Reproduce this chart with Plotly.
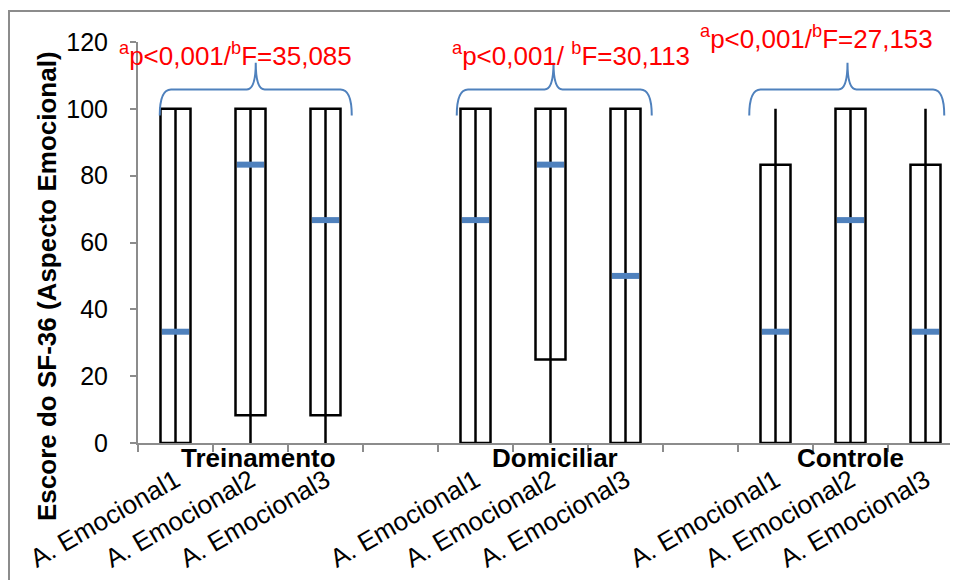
import plotly.graph_objects as go

# ---- data ----
groups = ["Treinamento", "Domiciliar", "Controle"]
tick_labels = ["A. Emocional1", "A. Emocional2", "A. Emocional3"] * 3
positions = [0, 1, 2, 4, 5, 6, 8, 9, 10]
q1 = [0, 8.3, 8.3, 0, 25, 0, 0, 0, 0]
q3 = [100, 100, 100, 100, 100, 100, 83.3, 100, 83.3]
medians = [33.3, 83.3, 66.7, 66.7, 83.3, 50, 33.3, 66.7, 33.3]
mins = [0, 0, 0, 0, 0, 0, 0, 0, 0]
maxs = [100, 100, 100, 100, 100, 100, 100, 100, 100]
stats_text = [
    "<sup>a</sup>p&lt;0,001/<sup>b</sup>F=35,085",
    "<sup>a</sup>p&lt;0,001/ <sup>b</sup>F=30,113",
    "<sup>a</sup>p&lt;0,001/<sup>b</sup>F=27,153",
]

FONT = "Liberation Sans, Arial, sans-serif"
BLUE = "#4f81bd"
GREY = "#8c8c8c"
# page body has an 8px margin, so the figure is 950x572 inside the 958x580 window
W, H = 950, 572
ML, MR, MT, MB = 130, 0, 34, 137
BOXW = 0.4
YMAX = 120

fig = go.Figure()

# boxes
fig.add_trace(go.Bar(
    x=positions, y=[b - a for a, b in zip(q1, q3)], base=q1, width=BOXW,
    marker=dict(color="white", line=dict(color="black", width=2.5)),
    hoverinfo="skip", showlegend=False))

# whiskers (vertical line through the box)
wx, wy = [], []
for p, lo, hi in zip(positions, mins, maxs):
    wx += [p, p, None]
    wy += [lo, hi, None]
fig.add_trace(go.Scatter(x=wx, y=wy, mode="lines",
                         line=dict(color="black", width=2.5),
                         hoverinfo="skip", showlegend=False))

# medians
mx, my = [], []
for p, m in zip(positions, medians):
    mx += [p - BOXW / 2 + 0.02, p + BOXW / 2 - 0.02, None]
    my += [m, m, None]
fig.add_trace(go.Scatter(x=mx, y=my, mode="lines",
                         line=dict(color=BLUE, width=6),
                         hoverinfo="skip", showlegend=False))

# braces (left, tip, right) in data units
braces = [(-0.21, 1.07, 2.35), (3.75, 5.04, 6.35), (7.65, 8.96, 10.25)]
yb, yh, yt = 98, 105.8, 113.8
for x0, xt, x1 in braces:
    path = (f"M {x0},{yb} Q {x0},{yh} {x0+0.15},{yh} "
            f"L {xt-0.12},{yh} Q {xt},{yh} {xt},{yt} "
            f"Q {xt},{yh} {xt+0.12},{yh} "
            f"L {x1-0.15},{yh} Q {x1},{yh} {x1},{yb}")
    fig.add_shape(type="path", path=path, xref="x", yref="y",
                  line=dict(color=BLUE, width=2))

# stats annotations (y given in data units, placed via paper coords)
stat_pos = [(0.8, 116.4), (5.27, 116.4), (8.55, 121.2)]
for txt, (x, y) in zip(stats_text, stat_pos):
    fig.add_annotation(x=x, y=y / YMAX, xref="x", yref="paper", text=txt, showarrow=False,
                       font=dict(family=FONT, size=26, color="red"),
                       xanchor="center", yanchor="middle")

# group labels
group_pos = [1.1, 5.06, 9.0]
for g, x in zip(groups, group_pos):
    fig.add_annotation(x=x, y=-4.6 / YMAX, xref="x", yref="paper", text=f"<b>{g}</b>",
                       showarrow=False, font=dict(family=FONT, size=26, color="black"),
                       xanchor="center", yanchor="middle")

pw = W - ML - MR
ph = H - MT - MB

# y-axis title
fig.add_annotation(x=(39 - ML) / pw, y=(H - MB - 278) / ph, xref="paper", yref="paper",
                   text="<b>Escore do SF-36 (Aspecto Emocional)</b>", textangle=-90,
                   showarrow=False, font=dict(family=FONT, size=26, color="black"),
                   xanchor="center", yanchor="middle")

# outer frame
fig.add_shape(type="rect", xref="paper", yref="paper",
              x0=(1 - ML) / pw, x1=(W + 20 - ML) / pw,
              y0=(H - MB - (H + 20)) / ph, y1=(H - MB - 3) / ph,
              line=dict(color=GREY, width=2), fillcolor="rgba(0,0,0,0)", layer="below")

fig.update_layout(
    width=W, height=H,
    margin=dict(l=ML, r=MR, t=MT, b=MB, pad=0, autoexpand=False),
    paper_bgcolor="white", plot_bgcolor="white",
    font=dict(family=FONT, color="black"),
    showlegend=False,
    xaxis=dict(
        range=[-0.5, -0.5 + pw / 75], tickmode="array", tickvals=positions,
        ticktext=tick_labels, tickangle=-30, ticks="", showgrid=False, zeroline=False,
        showline=True, linecolor=GREY, linewidth=2, automargin=False,
        tickfont=dict(family=FONT, size=26, color="black"),
        ticklabelstandoff=10,
        minor=dict(tickmode="linear", tick0=-0.5, dtick=1, ticks="outside",
                   ticklen=7, tickwidth=2, tickcolor=GREY, showgrid=False),
    ),
    yaxis=dict(
        range=[0, YMAX], tickmode="linear", tick0=0, dtick=20, ticks="outside",
        ticklen=6, tickwidth=2, tickcolor=GREY, showgrid=False, zeroline=False,
        showline=True, linecolor=GREY, linewidth=2, automargin=False,
        tickfont=dict(family=FONT, size=25, color="black"),
        ticklabelstandoff=17,
    ),
)

fig.write_html("out.html")
